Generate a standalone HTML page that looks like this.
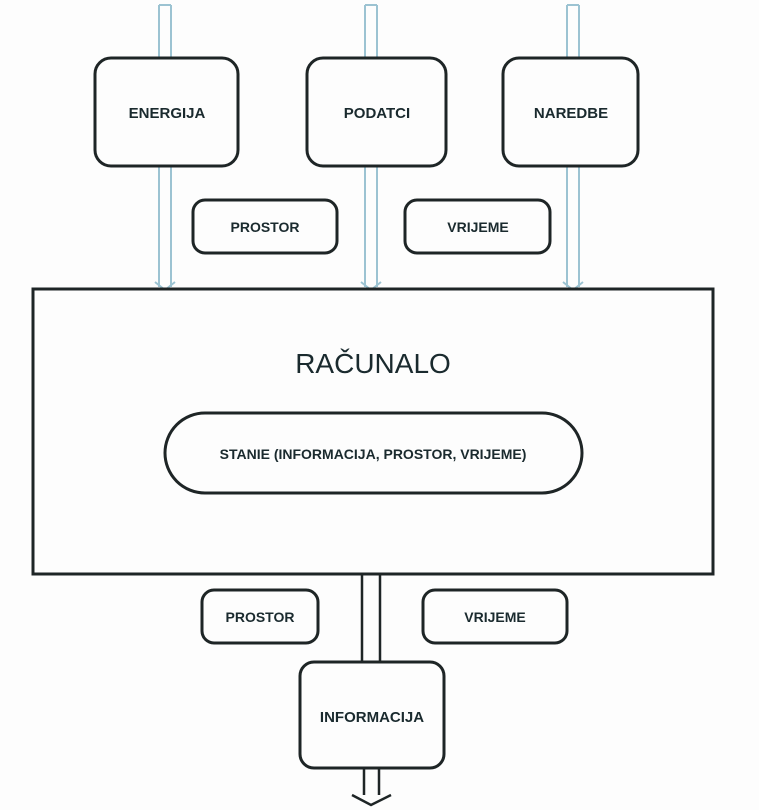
<!DOCTYPE html>
<html><head><meta charset="utf-8"><style>
html,body{margin:0;padding:0;background:#fff;}
svg{display:block;}
text{font-family:"Liberation Sans",sans-serif;fill:#1a2a2e;text-anchor:middle;}
</style></head><body>
<svg width="759" height="810" viewBox="0 0 759 810" xmlns="http://www.w3.org/2000/svg">
<rect width="759" height="810" fill="#fdfdfd"/>
<g stroke="#9cc3d2" stroke-width="2" fill="none">
  <path d="M159 5 V287 M171 5 V287 M159 5 H171"/>
  <path d="M365 5 V287 M377 5 V287 M365 5 H377"/>
  <path d="M567 5 V287 M579 5 V287 M567 5 H579"/>
  <path d="M155 282 L165 290 L175 282 M361 282 L371 290 L381 282 M563 282 L573 290 L583 282"/>
</g>
<g stroke="#1e2526" stroke-width="3" fill="#fdfdfd">
  <rect x="95" y="58" width="143" height="108" rx="16"/>
  <rect x="307" y="58" width="139" height="108" rx="16"/>
  <rect x="503" y="58" width="135" height="108" rx="16"/>
  <rect x="193" y="200" width="144" height="53" rx="12"/>
  <rect x="405" y="200" width="145" height="53" rx="12"/>
  <rect x="33" y="289" width="680" height="285" rx="0"/>
  <rect x="165" y="413" width="417" height="80" rx="40"/>
</g>
<g stroke="#1e2526" stroke-width="2.5" fill="none">
  <path d="M362 574 V662 M380 574 V662"/>
  <path d="M364 768 V795 M379 768 V795 M352 795 L371 805 L391 795"/>
</g>
<g stroke="#1e2526" stroke-width="3" fill="#fdfdfd">
  <rect x="202" y="590" width="116" height="53" rx="12"/>
  <rect x="423" y="590" width="144" height="53" rx="12"/>
  <rect x="300" y="662" width="144" height="106" rx="14"/>
</g>
<g font-size="15" font-weight="bold">
  <text x="167" y="118">ENERGIJA</text>
  <text x="377" y="118">PODATCI</text>
  <text x="571" y="118">NAREDBE</text>
  <text x="265" y="232" font-size="14">PROSTOR</text>
  <text x="478" y="232" font-size="14">VRIJEME</text>
  <text x="373" y="459" font-size="14">STANIE (INFORMACIJA, PROSTOR, VRIJEME)</text>
  <text x="260" y="622" font-size="14">PROSTOR</text>
  <text x="495" y="622" font-size="14">VRIJEME</text>
  <text x="372" y="722">INFORMACIJA</text>
</g>
<text x="373" y="373" font-size="28">RAČUNALO</text>
</svg>
</body></html>
